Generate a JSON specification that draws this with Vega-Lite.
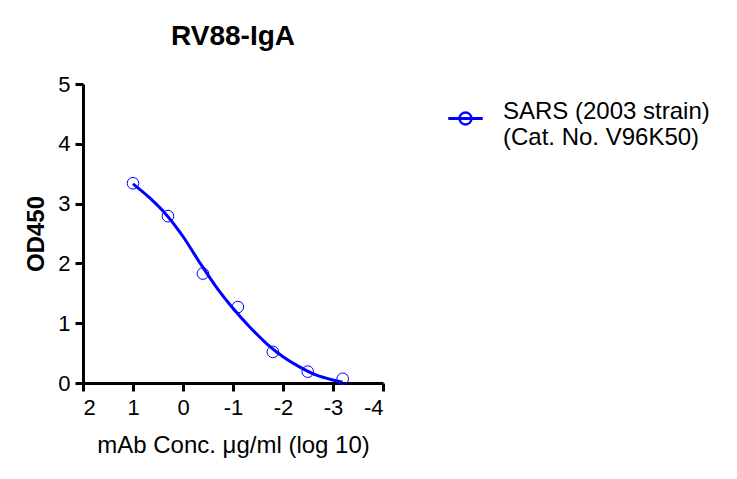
{
  "$schema": "https://vega.github.io/schema/vega-lite/v6.json",
  "width": 300,
  "height": 299,
  "autosize": {"type": "none"},
  "padding": {"left": 83, "top": 84, "right": 354, "bottom": 96},
  "background": "white",
  "title": {"text": "RV88-IgA", "fontSize": 28, "font": "Liberation Sans", "fontWeight": "bold", "anchor": "middle", "color": "black", "offset": 22},
  "config": {
    "view": {"stroke": null},
    "font": "Liberation Sans",
    "axis": {
      "domainColor": "black", "domainWidth": 3, "tickColor": "black", "tickWidth": 3, "tickSize": 8,
      "labelColor": "black", "labelFontSize": 22, "labelFont": "Liberation Sans",
      "titleColor": "black", "titleFontSize": 24, "titleFont": "Liberation Sans", "grid": false
    }
  },
  "datasets": {
    "points": [
      {"logc": 1.0, "od": 3.34, "series": "SARS"},
      {"logc": 0.301, "od": 2.79, "series": "SARS"},
      {"logc": -0.398, "od": 1.83, "series": "SARS"},
      {"logc": -1.097, "od": 1.27, "series": "SARS"},
      {"logc": -1.796, "od": 0.52, "series": "SARS"},
      {"logc": -2.495, "od": 0.19, "series": "SARS"},
      {"logc": -3.194, "od": 0.07, "series": "SARS"}
    ],
    "curve": [
      {"logc": 1.0, "od": 3.33},
      {"logc": 0.66, "od": 3.09},
      {"logc": 0.33, "od": 2.81},
      {"logc": 0.0, "od": 2.45},
      {"logc": -0.33, "od": 2.02},
      {"logc": -0.67, "od": 1.6},
      {"logc": -1.0, "od": 1.25},
      {"logc": -1.33, "od": 0.94},
      {"logc": -1.67, "od": 0.66},
      {"logc": -2.0, "od": 0.44},
      {"logc": -2.33, "od": 0.27},
      {"logc": -2.67, "od": 0.13},
      {"logc": -3.0, "od": 0.05},
      {"logc": -3.19, "od": 0.015}
    ]
  },
  "layer": [
    {
      "data": {"name": "curve"},
      "mark": {"type": "line", "interpolate": "monotone", "strokeWidth": 3, "color": "#0000FF"},
      "encoding": {
        "x": {"field": "logc", "type": "quantitative", "scale": {"domain": [-4, 2], "reverse": true, "nice": false}, "axis": {"values": [2, 1, 0, -1, -2, -3, -4], "labelExpr": "'' + datum.value", "title": "mAb Conc. μg/ml (log 10)", "titleFontWeight": "normal", "labelPadding": 6, "titlePadding": 15}},
        "y": {"field": "od", "type": "quantitative", "scale": {"domain": [0, 5], "nice": false}, "axis": {"values": [0, 1, 2, 3, 4, 5], "labelExpr": "'' + datum.value", "title": "OD450", "titleFontWeight": "bold", "labelPadding": 5, "titlePadding": 9}}
      }
    },
    {
      "data": {"name": "points"},
      "mark": {"type": "point", "shape": "circle", "size": 135, "strokeWidth": 1, "filled": false, "opacity": 1},
      "encoding": {
        "x": {"field": "logc", "type": "quantitative"},
        "y": {"field": "od", "type": "quantitative"},
        "color": {
          "field": "series", "type": "nominal",
          "scale": {"range": ["#0000FF"]},
          "legend": {
            "title": null, "orient": "none", "legendX": 365, "legendY": 17,
            "symbolType": "M-1,-0.05L1,-0.05L1,0.05L-1,0.05Z M0.39,0A0.39,0.39 0 1,1 -0.39,0A0.39,0.39 0 1,1 0.39,0Z M0.34,0A0.34,0.34 0 1,0 -0.34,0A0.34,0.34 0 1,0 0.34,0Z",
            "symbolSize": 1088,
            "labelFontSize": 24, "labelColor": "black", "labelLimit": 400, "labelOffset": 20,
            "labelBaseline": "alphabetic",
            "labelExpr": "['SARS (2003 strain)', '(Cat. No. V96K50)']",
            "encode": {
              "symbols": {"update": {"fill": {"value": "#0000FF"}, "strokeWidth": {"value": 0}, "opacity": {"value": 1}}},
              "labels": {"update": {"lineHeight": {"value": 28.5}, "dy": {"value": -10}}}
            }
          }
        }
      }
    }
  ]
}
